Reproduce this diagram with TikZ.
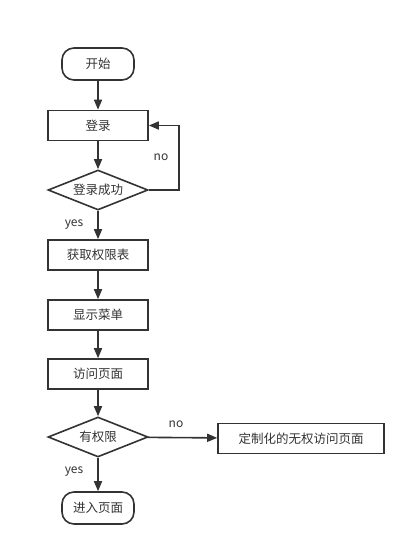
\documentclass[tikz,border=0pt]{standalone}
\usepackage{fontspec}
\newfontfamily\cjk{Noto Sans CJK SC}
\usetikzlibrary{shapes.geometric,arrows.meta,positioning}
\definecolor{linegray}{HTML}{333333}

\begin{document}
\begin{tikzpicture}[x=1pt, y=-1pt,
  every node/.style={font=\cjk\fontsize{12.5}{14}\selectfont, text=linegray},
  box/.style={draw=linegray, line width=1.6pt, minimum width=100pt, minimum height=30pt, inner sep=0pt},
  term/.style={box, rounded corners=12pt, minimum width=72pt, minimum height=32pt},
  cond/.style={draw=linegray, line width=1.6pt, diamond, aspect=2.5, minimum width=100pt, minimum height=40pt, inner sep=0pt},
  flow/.style={draw=linegray, line width=1.6pt, -{Triangle[length=10pt,width=8pt]}},
  lbl/.style={font=\cjk\fontsize{12}{14}\selectfont, inner sep=0pt}]

\useasboundingbox (0,0) rectangle (417,557);

\node[term] (start) at (98,64) {开始};
\node[box] (login) at (98,125.5) {登录};
\node[cond] (ok) at (98,190) {登录成功};
\node[box] (fetch) at (98,255) {获取权限表};
\node[box] (menu) at (98,315) {显示菜单};
\node[box] (visit) at (98,374) {访问页面};
\node[cond] (perm) at (98,437) {有权限};
\node[box, minimum width=166pt] (deny) at (301,438.5) {定制化的无权访问页面};
\node[term] (enter) at (98,508) {进入页面};

% labels
\node[lbl] (no1) at (161,157) {no};
\node[lbl] (yes1) at (74,225) {yes};
\node[lbl] (no2) at (176,424) {no};
\node[lbl] (yes2) at (74,472) {yes};

\coordinate (back) at ([xshift=30pt]ok.east);

\draw[flow] (start) -- (login);
\draw[flow] (login) -- (ok);
\draw[flow] (ok.east) -- (back) |- (login.east);
\draw[flow] (ok) -- (fetch);
\draw[flow] (fetch) -- (menu);
\draw[flow] (menu) -- (visit);
\draw[flow] (visit) -- (perm);
\draw[flow] (perm) -- (deny);
\draw[flow] (perm) -- (enter);

\end{tikzpicture}
\end{document}
